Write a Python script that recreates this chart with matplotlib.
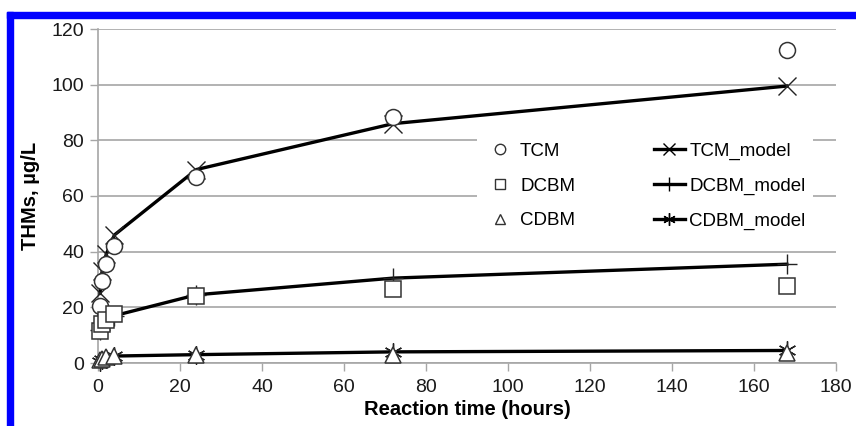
import matplotlib
matplotlib.use("Agg")
import matplotlib.pyplot as plt
from matplotlib.patches import Rectangle
from matplotlib.lines import Line2D

plt.rcParams['font.family'] = ['Liberation Sans', 'DejaVu Sans']

# ---- data ----
times = [0.5, 1, 2, 4, 24, 72, 168]
tcm = [20.5, 29.5, 35.5, 42, 67, 88.5, 112.5]
tcm_model = [25, 33, 39, 46, 69.5, 86, 99.5]
dcbm = [11.5, 14, 15.5, 17.5, 24, 26.5, 27.5]
dcbm_model = [12, 13.5, 15.5, 17, 24.5, 30.5, 35.5]
cdbm = [1, 1.5, 2, 2.5, 3, 3, 3.5]
cdbm_model = [0.5, 1, 1.5, 2.5, 3, 4, 4.5]

x_ticks = [0, 20, 40, 60, 80, 100, 120, 140, 160, 180]
y_ticks = [0, 20, 40, 60, 80, 100, 120]

W, H = 856, 426
fig = plt.figure(figsize=(W / 100, H / 100), dpi=100)
ax = fig.add_axes([98 / W, 1 - 363 / H, (836 - 98) / W, (363 - 29) / H])

grid_c = '#a6a6a6'
ax.set_xlim(0, 180)
ax.set_ylim(0, 120)
ax.set_xticks(x_ticks)
ax.set_yticks(y_ticks)
ax.yaxis.grid(True, color=grid_c, lw=1.2)
ax.set_axisbelow(True)
for s in ['top', 'right']:
    ax.spines[s].set_visible(False)
ax.spines['left'].set_color(grid_c)
ax.spines['bottom'].set_color(grid_c)
ax.spines['left'].set_linewidth(1.2)
ax.spines['bottom'].set_linewidth(1.2)
ax.tick_params(axis='both', colors=grid_c, labelcolor='#1a1a1a', labelsize=14,
               length=6, width=1.0, direction='out', pad=4)
ax.tick_params(axis='x', pad=5.5)

# model lines
mk_kw = dict(color='black', lw=2.4, mec='#222222', mew=1.0, clip_on=False, zorder=3)
ax.plot(times, tcm_model, marker='x', ms=13, label='TCM_model', **mk_kw)
ax.plot(times, dcbm_model, marker='+', ms=14, label='DCBM_model', **mk_kw)
ax.plot(times, cdbm_model, marker=(6, 2, 0), ms=13, label='CDBM_model', **mk_kw)

# data markers
d_kw = dict(ls='none', mfc='white', mec='#333333', mew=1.1, clip_on=False, zorder=4)
ax.plot(times, tcm, marker='o', ms=11.5, **d_kw)
ax.plot(times, dcbm, marker='s', ms=11, **d_kw)
ax.plot(times, cdbm, marker='^', ms=11.5, **d_kw)

ax.set_xlabel('Reaction time (hours)', fontsize=14.5, fontweight='bold', labelpad=3)
ax.set_ylabel('THMs, µg/L', fontsize=14.5, fontweight='bold', labelpad=8)

# legend
hd = dict(ls='none', mfc='white', mec='#333333', mew=1.0)
handles = [
    Line2D([], [], marker='o', ms=7.5, **hd),
    Line2D([], [], marker='s', ms=7, **hd),
    Line2D([], [], marker='^', ms=7.5, **hd),
    Line2D([], [], color='black', lw=2.4, marker='x', ms=9, mew=1.0),
    Line2D([], [], color='black', lw=2.4, marker='+', ms=10, mew=1.0),
    Line2D([], [], color='black', lw=2.4, marker=(6, 2, 0), ms=9, mew=1.0),
]
labels = ['TCM', 'DCBM', 'CDBM', 'TCM_model', 'DCBM_model', 'CDBM_model']
leg = ax.legend(handles, labels, ncol=2, loc='upper left',
                bbox_to_anchor=((477 - 98) / 738, 1 - (135 - 29) / 334),
                frameon=True, facecolor='white', edgecolor='none', framealpha=1,
                fontsize=13.5, handlelength=1.65, handletextpad=0.25,
                columnspacing=4.2, labelspacing=0.95, borderpad=0.4,
                borderaxespad=0)
leg.set_zorder(5)

# blue frame
fig.patches.append(Rectangle((7 / W, 0), 6 / W, 1 - 12 / H, transform=fig.transFigure,
                             color='#0000ff', zorder=10))
fig.patches.append(Rectangle((7 / W, 1 - 18 / H), 1, 6 / H, transform=fig.transFigure,
                             color='#0000ff', zorder=10))

fig.savefig('out.png', dpi=100)
